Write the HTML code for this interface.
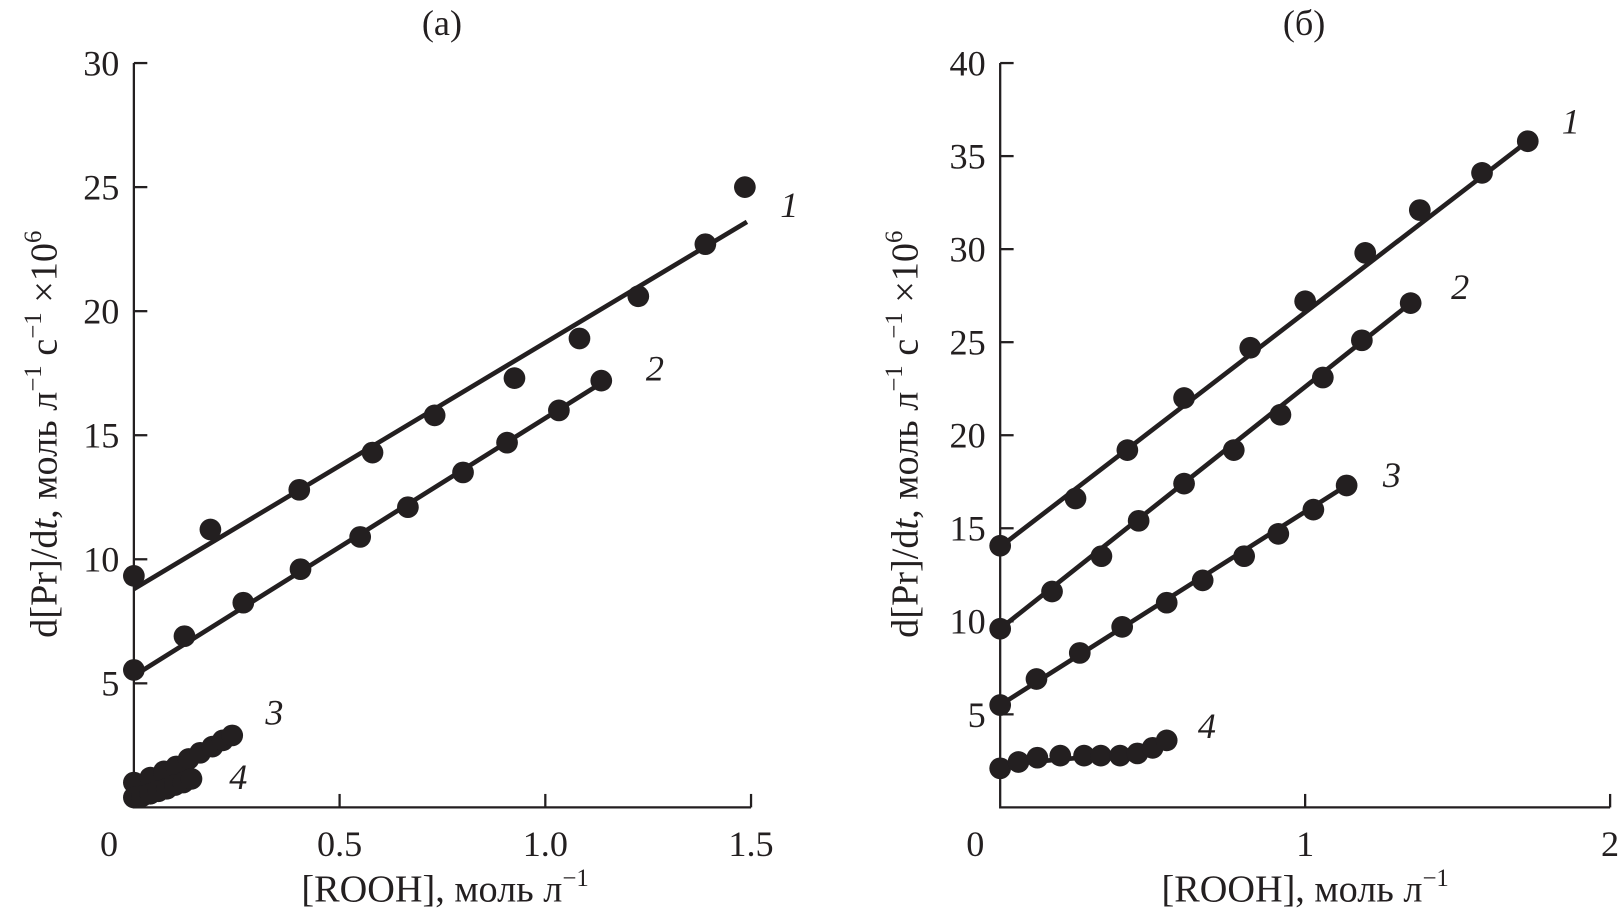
<!DOCTYPE html>
<html><head><meta charset="utf-8"><style>
html,body{margin:0;padding:0;background:#fff;}
svg{display:block;}
text{font-family:"Liberation Serif",serif;fill:#231f20;}
</style></head><body>
<svg id="chart" width="1622" height="918" viewBox="0 0 1568 888" xmlns="http://www.w3.org/2000/svg">
<g id="pa"></g>
<g id="pb"></g>
</svg>
<script>
// Panel (a) data
const aX1=[0,0.186,0.402,0.58,0.731,0.925,1.083,1.226,1.389,1.485];
const aY1=[9.33,11.2,12.8,14.3,15.8,17.3,18.9,20.6,22.7,25.0];
const aX2=[0,0.123,0.266,0.405,0.55,0.666,0.8,0.907,1.033,1.136];
const aY2=[5.54,6.9,8.25,9.6,10.9,12.1,13.5,14.7,16.0,17.2];
const aX3=[0,0.04,0.073,0.103,0.133,0.161,0.191,0.216,0.239];
const aY3=[1.0,1.2,1.45,1.65,1.95,2.2,2.45,2.7,2.9];
const aX4=[0,0.02,0.04,0.06,0.08,0.1,0.12,0.14];
const aY4=[0.4,0.45,0.55,0.65,0.75,0.9,1.0,1.15];
const aFit1=[[0,8.8],[1.49,23.6]];
const aFit2=[[0,5.3],[1.136,17.1]];
const aXTicks=[0,0.5,1.0,1.5];
const aXTickLabels=["0","0.5","1.0","1.5"];
const aYTicks=[5,10,15,20,25,30];
// Panel (б) data
const bX1=[0,0.247,0.417,0.603,0.82,1.0,1.197,1.376,1.58,1.73];
const bY1=[14.06,16.6,19.2,22.0,24.7,27.2,29.8,32.1,34.1,35.8];
const bX2=[0,0.17,0.332,0.454,0.603,0.766,0.919,1.058,1.186,1.346];
const bY2=[9.6,11.6,13.5,15.4,17.4,19.2,21.1,23.1,25.1,27.1];
const bX3=[0,0.119,0.261,0.4,0.546,0.664,0.8,0.912,1.027,1.136];
const bY3=[5.5,6.9,8.3,9.7,11.0,12.2,13.5,14.7,16.0,17.3];
const bX4=[0,0.06,0.122,0.197,0.275,0.33,0.393,0.45,0.5,0.546];
const bY4=[2.1,2.44,2.67,2.78,2.78,2.78,2.78,2.9,3.2,3.6];
const bFit1=[[0,14.0],[1.73,35.8]];
const bFit2=[[0,9.6],[1.346,27.1]];
const bFit3=[[0,5.5],[1.136,17.3]];
const bFit4=[[0,2.3],[0.5,3.0]];
const bXTicks=[0,1,2];
const bXTickLabels=["0","1","2"];
const bYTicks=[5,10,15,20,25,30,35,40];

const NS="http://www.w3.org/2000/svg";
function mk(parent,tag,attrs,txt){const e=document.createElementNS(NS,tag);for(const k in attrs)e.setAttribute(k,attrs[k]);if(txt!=null)e.textContent=txt;parent.appendChild(e);return e;}

function panel(g,o){
  const sx=v=>o.x0+(v-o.xmin)/(o.xmax-o.xmin)*(o.x1-o.x0);
  const sy=v=>o.y0-(v-o.ymin)/(o.ymax-o.ymin)*(o.y0-o.y1);
  const ax=mk(g,'path',{d:`M${o.x0},${sy(o.ymax)} L${o.x0},${o.y0} L${sx(o.xmax)},${o.y0}`,fill:'none',stroke:'#231f20','stroke-width':2.2});
  
  
  o.yt.forEach(v=>{
    const t=mk(g,'line',{x1:o.x0,x2:o.x0+13,y1:sy(v),y2:sy(v),stroke:'#231f20','stroke-width':2.2});
    
    
    const l=mk(g,'text',{x:o.x0-14,y:sy(v)+12,'text-anchor':'end','font-size':35},String(v));
    
    
  });
  o.xt.forEach((v,i)=>{
    if(v!==0){const t=mk(g,'line',{x1:sx(v),x2:sx(v),y1:o.y0,y2:o.y0-13,stroke:'#231f20','stroke-width':2.2});
    
    }
    const l=mk(g,'text',{x:v===0?sx(v)-24:sx(v),y:o.y0+47,'text-anchor':'middle','font-size':35},o.xl[i]);
    
    
  });
  o.fits.forEach(f=>{
    const ln=mk(g,'line',{x1:sx(f[0][0]),y1:sy(f[0][1]),x2:sx(f[1][0]),y2:sy(f[1][1]),stroke:'#231f20','stroke-width':4.5});
    
    
  });
  o.series.forEach(s=>{
    s[0].forEach((xv,i)=>{
      const c=mk(g,'circle',{cx:sx(xv),cy:sy(s[1][i]),r:10.5,fill:'#231f20'});
      
      
    });
  });
  o.labels.forEach(l=>{
    const t=mk(g,'text',{x:l[0],y:l[1],'font-size':35,'font-style':'italic','text-anchor':'middle'},l[2]);
    
    
  });
  const ti=mk(g,'text',{x:o.title[0],y:o.title[1],'font-size':35,'text-anchor':'middle'},o.title[2]);
  
  
  const xl=mk(g,'text',{x:o.xlab[0],y:o.xlab[1],'font-size':37,'text-anchor':'middle'});
  
  
  xl.innerHTML='[ROOH], моль л<tspan dy="-15" font-size="24">−1</tspan>';
  const yl=mk(g,'text',{x:0,y:0,'font-size':37,'text-anchor':'middle',transform:`translate(${o.ylab[0]},${o.ylab[1]}) rotate(-90)`});
  
  
  yl.innerHTML='d[Pr]/d<tspan font-style="italic">t</tspan>, моль л<tspan dy="-15" font-size="24">−1</tspan><tspan dy="15"> с</tspan><tspan dy="-15" font-size="24">−1</tspan><tspan dy="15"> ×10</tspan><tspan dy="-15" font-size="24">6</tspan>';
}

panel(document.getElementById('pa'),{x0:129,x1:726,xmin:0,xmax:1.5,y0:781,y1:61,ymin:0,ymax:30,
  xt:aXTicks,xl:aXTickLabels,yt:aYTicks,fits:[aFit1,aFit2],
  series:[[aX1,aY1],[aX2,aY2],[aX3,aY3],[aX4,aY4]],
  labels:[[763,210,'1'],[633,368,'2'],[265,701,'3'],[230,763,'4']],
  title:[427,34,'(a)'],xlab:[430,872],ylab:[54,420]});
panel(document.getElementById('pb'),{x0:967,x1:1557,xmin:0,xmax:2,y0:781,y1:61,ymin:0,ymax:40,
  xt:bXTicks,xl:bXTickLabels,yt:bYTicks,fits:[bFit1,bFit2,bFit3,bFit4],
  series:[[bX1,bY1],[bX2,bY2],[bX3,bY3],[bX4,bY4]],
  labels:[[1519,129,'1'],[1412,289,'2'],[1346,471,'3'],[1167,714,'4']],
  title:[1261,34,'(б)'],xlab:[1262,872],ylab:[887,420]});
</script>
</body></html>
